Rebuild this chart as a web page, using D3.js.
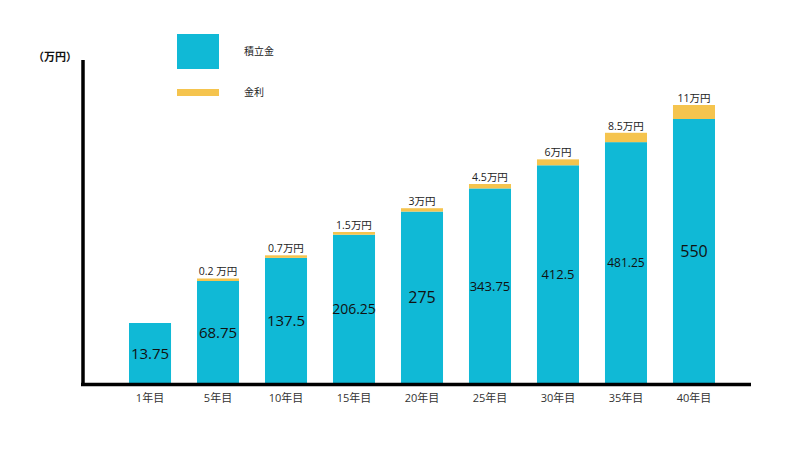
<!DOCTYPE html>
<html>
<head>
<meta charset="utf-8">
<script src="https://cdn.jsdelivr.net/npm/d3@7"></script>
<style>
  body { margin: 0; background: #fff; }
  svg text { font-family: "Open Sans", "Noto Sans CJK JP", sans-serif; }
</style>
</head>
<body>
<div id="chart"></div>
<script>
// data
const years = ["1年目", "5年目", "10年目", "15年目", "20年目", "25年目", "30年目", "35年目", "40年目"];
const savings = [13.75, 68.75, 137.5, 206.25, 275, 343.75, 412.5, 481.25, 550];
const interest = [0, 0.2, 0.7, 1.5, 3, 4.5, 6, 8.5, 11];
const interestLabels = ["", "0.2 万円", "0.7万円", "1.5万円", "3万円", "4.5万円", "6万円", "8.5万円", "11万円"];
const legendNames = ["積立金", "金利"];

// label font sizes inside the bars (the original is not uniform)
const valueSizes = [15, 15, 15, 14, 16, 13, 13, 12, 16];

const width = 800, height = 450;
const blue = "#10b9d6", gold = "#f5c44e";
const baseY = 384;

const svg = d3.select("#chart").append("svg")
    .attr("width", width)
    .attr("height", height);

const x = d3.scaleBand()
    .domain(years)
    .range([129, 715])
    .paddingInner(0.382)
    .paddingOuter(0);

// the original bars are not drawn to a linear scale, so use a piecewise one
const y = d3.scaleLinear()
    .domain([0, 13.75, 68.75, 550])
    .range([baseY, 323, 281, 119]);

const gh = d3.scalePow()
    .exponent(2)
    .domain([0, 11])
    .range([2.5, 14]);

const rows = years.map((d, i) => ({
    year: d, save: savings[i], rate: interest[i], label: interestLabels[i], size: valueSizes[i]
}));

// savings bars
svg.selectAll(".bar")
    .data(rows)
    .enter()
    .append("rect")
    .attr("class", "bar")
    .attr("x", d => x(d.year))
    .attr("y", d => y(d.save))
    .attr("width", x.bandwidth())
    .attr("height", d => baseY - y(d.save))
    .attr("fill", blue);

// interest on top
const withRate = rows.filter(d => d.rate > 0);
svg.selectAll(".rate")
    .data(withRate)
    .enter()
    .append("rect")
    .attr("class", "rate")
    .attr("x", d => x(d.year))
    .attr("y", d => y(d.save) - gh(d.rate))
    .attr("width", x.bandwidth())
    .attr("height", d => gh(d.rate))
    .attr("fill", gold);

svg.selectAll(".rate-label")
    .data(withRate)
    .enter()
    .append("text")
    .attr("x", d => x(d.year) + x.bandwidth() / 2)
    .attr("y", d => y(d.save) - gh(d.rate) - 3)
    .attr("text-anchor", "middle")
    .attr("font-size", "10.5px")
    .attr("fill", "#222")
    .text(d => d.label);

// values inside the bars
svg.selectAll(".value")
    .data(rows)
    .enter()
    .append("text")
    .attr("x", d => x(d.year) + x.bandwidth() / 2)
    .attr("y", d => (y(d.save) + baseY) / 2 + d.size * 0.35)
    .attr("text-anchor", "middle")
    .attr("font-size", d => d.size + "px")
    .attr("fill", "#111")
    .text(d => d.save);

// category labels
svg.selectAll(".cat")
    .data(years)
    .enter()
    .append("text")
    .attr("x", d => x(d) + x.bandwidth() / 2)
    .attr("y", 402)
    .attr("text-anchor", "middle")
    .attr("font-size", "11px")
    .attr("fill", "#333")
    .text(d => d);

// axis lines
svg.append("line")
    .attr("x1", 83).attr("x2", 83)
    .attr("y1", 60).attr("y2", 386)
    .attr("stroke", "#000")
    .attr("stroke-width", 3.5);

svg.append("line")
    .attr("x1", 81).attr("x2", 751)
    .attr("y1", 384.5).attr("y2", 384.5)
    .attr("stroke", "#000")
    .attr("stroke-width", 3.5);

svg.append("text")
    .attr("x", 33)
    .attr("y", 61)
    .attr("font-size", "11px")
    .attr("font-weight", "bold")
    .attr("fill", "#111")
    .text("（万円）");

// legend
const legend = svg.append("g");
legend.append("rect")
    .attr("x", 177).attr("y", 34)
    .attr("width", 42).attr("height", 35)
    .attr("fill", blue);
legend.append("rect")
    .attr("x", 177).attr("y", 89)
    .attr("width", 42).attr("height", 7)
    .attr("fill", gold);
legend.selectAll("text")
    .data(legendNames)
    .enter()
    .append("text")
    .attr("x", 244)
    .attr("y", (d, i) => i === 0 ? 55 : 96)
    .attr("font-size", "10px")
    .attr("fill", "#222")
    .text(d => d);
</script>
</body>
</html>
